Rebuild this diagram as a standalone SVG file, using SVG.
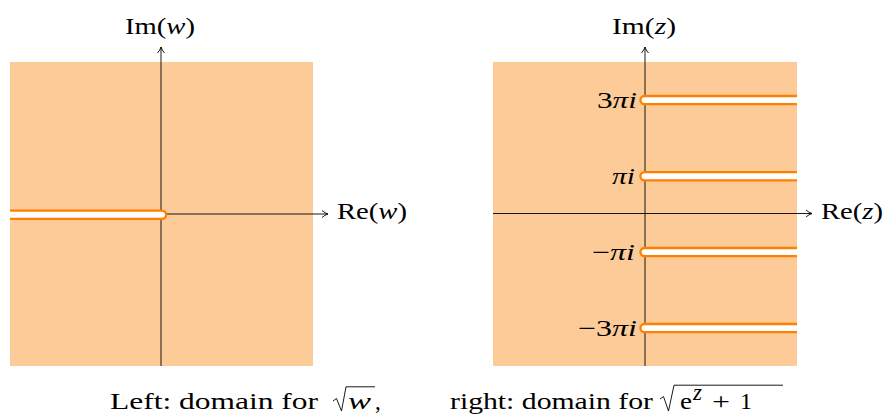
<svg xmlns="http://www.w3.org/2000/svg" width="885" height="414" viewBox="0 0 885 414">
<style>
text{font-family:"Liberation Serif","DejaVu Serif",serif;font-size:23px;fill:#000}
.it{font-style:italic}
.region{fill:#FDCB97}
.cutfill{fill:#fff;stroke:none}
.cut{fill:none;stroke:#FF8000;stroke-width:2.3}
.axis{stroke:#000;stroke-width:0.9;fill:none}
.sq{stroke:#000;stroke-width:0.9;fill:none}
</style>
<defs>
<marker id="arr" viewBox="0 0 10 10" refX="9" refY="5" markerWidth="10" markerHeight="10" markerUnits="userSpaceOnUse" orient="auto">
<path d="M3,1.5 Q6,4.2 9,5 Q6,5.8 3,8.5" fill="none" stroke="#000" stroke-width="0.9"/>
</marker>
</defs>
<g id="left-region"><rect class="region" x="10" y="62" width="303" height="304"/></g>
<g id="right-region"><rect class="region" x="493" y="62" width="304" height="304"/></g>
<g id="connectors">
<line class="axis" x1="10" y1="214" x2="328" y2="214" marker-end="url(#arr)"/>
<line class="axis" x1="161" y1="366" x2="161" y2="47" marker-end="url(#arr)"/>
<line class="axis" x1="493" y1="213.5" x2="812" y2="213.5" marker-end="url(#arr)"/>
<line class="axis" x1="645" y1="366" x2="645" y2="47" marker-end="url(#arr)"/>
</g>
<g id="left-cut">
<path class="cutfill" d="M10,210.6 H162 A4.1,4.1 0 0 1 162,218.8 H10 Z"/>
<path class="cut" d="M10,210.6 H162 A4.1,4.1 0 0 1 162,218.8 H10"/>
</g>
<g id="cut-3pi">
<path class="cutfill" d="M797,96 H644.5 A4.1,4.1 0 0 0 644.5,104.2 H797 Z"/>
<path class="cut" d="M797,96 H644.5 A4.1,4.1 0 0 0 644.5,104.2 H797"/>
</g>
<g id="cut-pi">
<path class="cutfill" d="M797,172.1 H644.5 A4.1,4.1 0 0 0 644.5,180.3 H797 Z"/>
<path class="cut" d="M797,172.1 H644.5 A4.1,4.1 0 0 0 644.5,180.3 H797"/>
</g>
<g id="cut-mpi">
<path class="cutfill" d="M797,248 H644.5 A4.1,4.1 0 0 0 644.5,256.2 H797 Z"/>
<path class="cut" d="M797,248 H644.5 A4.1,4.1 0 0 0 644.5,256.2 H797"/>
</g>
<g id="cut-m3pi">
<path class="cutfill" d="M797,324 H644.5 A4.1,4.1 0 0 0 644.5,332.2 H797 Z"/>
<path class="cut" d="M797,324 H644.5 A4.1,4.1 0 0 0 644.5,332.2 H797"/>
</g>
<g id="labels">
<text x="125" y="34" textLength="70" lengthAdjust="spacingAndGlyphs">Im(<tspan class="it">w</tspan>)</text>
<text x="612" y="34" textLength="64" lengthAdjust="spacingAndGlyphs">Im(<tspan class="it">z</tspan>)</text>
<text x="337" y="219" textLength="70" lengthAdjust="spacingAndGlyphs">Re(<tspan class="it">w</tspan>)</text>
<text x="821" y="219" textLength="62" lengthAdjust="spacingAndGlyphs">Re(<tspan class="it">z</tspan>)</text>
<text x="597" y="108" textLength="40" lengthAdjust="spacingAndGlyphs">3<tspan class="it">πi</tspan></text>
<text x="612" y="184" textLength="23" lengthAdjust="spacingAndGlyphs"><tspan class="it">πi</tspan></text>
<text x="592" y="260" textLength="43" lengthAdjust="spacingAndGlyphs">−<tspan class="it">πi</tspan></text>
<text x="578" y="336" textLength="59" lengthAdjust="spacingAndGlyphs">−3<tspan class="it">πi</tspan></text>
</g>
<g id="caption">
<text x="110" y="409" textLength="208" lengthAdjust="spacingAndGlyphs">Left: domain for</text>
<path class="sq" d="M333,401 L336.5,398.5 L341.5,411 L346,386.8 H375"/>
<text x="348" y="409" class="it" textLength="23" lengthAdjust="spacingAndGlyphs">w</text>
<text x="375" y="409">,</text>
<text x="450" y="409" textLength="203" lengthAdjust="spacingAndGlyphs">right: domain for</text>
<path class="sq" d="M660,399 L663.5,396.5 L668.5,411 L674,385.2 H783"/>
<text x="680" y="409" textLength="12" lengthAdjust="spacingAndGlyphs">e</text>
<text x="693" y="400" class="it" font-size="15">z</text>
<text x="712" y="409" font-size="24" textLength="18" lengthAdjust="spacingAndGlyphs">+</text>
<text x="740" y="409" textLength="12" lengthAdjust="spacingAndGlyphs">1</text>
</g>
</svg>
